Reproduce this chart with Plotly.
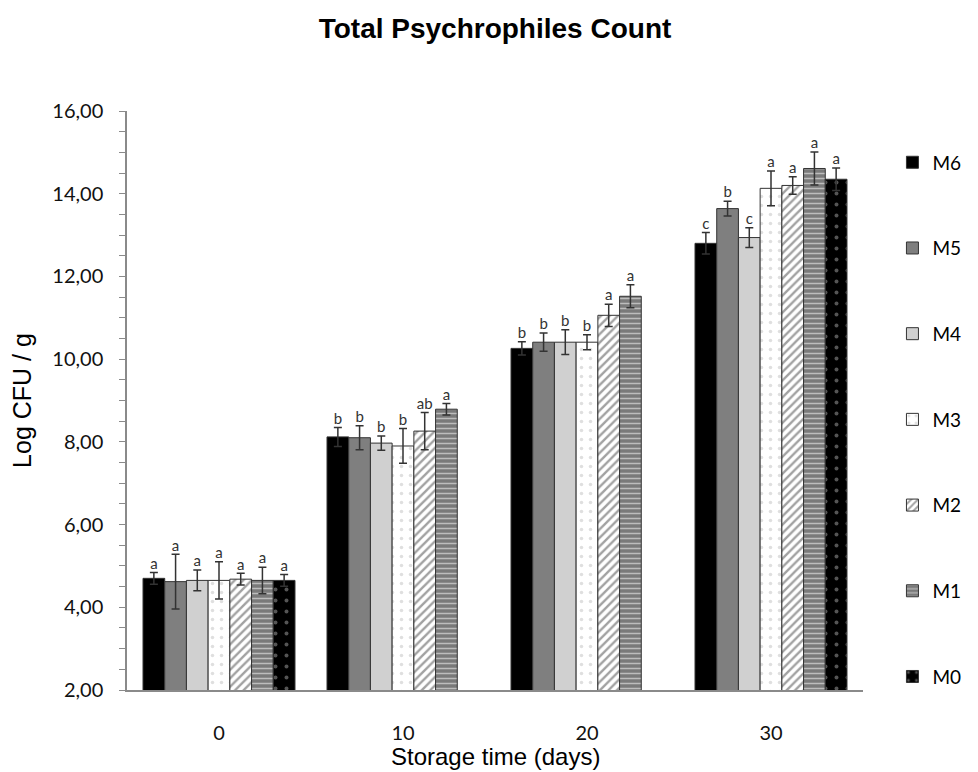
import plotly.graph_objects as go

days = ["0", "10", "20", "30"]
series = ["M6", "M5", "M4", "M3", "M2", "M1", "M0"]

# mean values (Log CFU/g) per series, for days 0, 10, 20, 30 (None = not measured)
M6 = [4.70, 8.12, 10.26, 12.80]
M5 = [4.62, 8.10, 10.41, 13.64]
M4 = [4.65, 7.97, 10.41, 12.94]
M3 = [4.65, 7.90, 10.41, 14.13]
M2 = [4.68, 8.26, 11.06, 14.20]
M1 = [4.65, 8.79, 11.52, 14.61]
M0 = [4.65, None, None, 14.35]

# standard deviations
M6_sd = [0.14, 0.23, 0.16, 0.26]
M5_sd = [0.66, 0.29, 0.22, 0.18]
M4_sd = [0.25, 0.17, 0.30, 0.24]
M3_sd = [0.45, 0.42, 0.18, 0.42]
M2_sd = [0.14, 0.45, 0.27, 0.21]
M1_sd = [0.32, 0.14, 0.28, 0.40]
M0_sd = [0.14, None, None, 0.27]

# significance letters
M6_lab = ["a", "b", "b", "c"]
M5_lab = ["a", "b", "b", "b"]
M4_lab = ["a", "b", "b", "c"]
M3_lab = ["a", "b", "b", "a"]
M2_lab = ["a", "ab", "a", "a"]
M1_lab = ["a", "a", "a", "a"]
M0_lab = ["a", "", "", "a"]

values = [M6, M5, M4, M3, M2, M1, M0]
sds = [M6_sd, M5_sd, M4_sd, M3_sd, M2_sd, M1_sd, M0_sd]
labels = [M6_lab, M5_lab, M4_lab, M3_lab, M2_lab, M1_lab, M0_lab]

styles = [
    dict(color="#000000"),
    dict(color="#7f7f7f"),
    dict(color="#d0d0d0"),
    dict(color="#ffffff", pattern=dict(shape=".", bgcolor="#ffffff", fgcolor="#c0c0c0", size=9, solidity=0.12)),
    dict(color="#ffffff", pattern=dict(shape="/", bgcolor="#ffffff", fgcolor="#444444", size=6, solidity=0.4)),
    dict(color="#808080", pattern=dict(shape="-", bgcolor="#7a7a7a", fgcolor="#ffffff", size=5, solidity=0.3)),
    dict(color="#000000", pattern=dict(shape=".", bgcolor="#000000", fgcolor="#aaaaaa", size=11, solidity=0.1)),
]

n = len(series)
w = 0.118
fig = go.Figure()
for i, name in enumerate(series):
    xs, ys, es, ts, ty = [], [], [], [], []
    for g, v in enumerate(values[i]):
        if v is None:
            continue
        xs.append(g + (i - (n - 1) / 2) * w)
        ys.append(v)
        es.append(sds[i][g])
        ts.append(labels[i][g])
        ty.append(v + sds[i][g])
    st = styles[i]
    marker = dict(color=st["color"], line=dict(color="#333333", width=1))
    if "pattern" in st:
        marker["pattern"] = st["pattern"]
    fig.add_trace(go.Bar(
        x=xs, y=ys, width=w, name=name, marker=marker, legendgroup=name,
        error_y=dict(type="data", array=es, color="#333333", thickness=1.5, width=4),
    ))
    fig.add_trace(go.Scatter(
        x=xs, y=ty, mode="text", text=ts, textposition="top center",
        textfont=dict(family="Lato, sans-serif", size=15, color="#333333"),
        showlegend=False, hoverinfo="skip",
    ))

fig.update_layout(
    width=978, height=772,
    barmode="overlay",
    separators=",.",
    plot_bgcolor="white", paper_bgcolor="white",
    margin=dict(l=127, r=105, t=111, b=82),
    title=dict(text="<b>Total Psychrophiles Count</b>", x=0.5, xref="paper", y=0.963, yanchor="middle",
               font=dict(family="Liberation Sans, Arial, sans-serif", size=28, color="#000000")),
    legend=dict(x=1.04, y=0.944, xanchor="left", yanchor="top", tracegroupgap=58,
                font=dict(family="Lato, sans-serif", size=19, color="#000000"),
                itemwidth=30),
    showlegend=True,
    annotations=[dict(
        text="Storage time (days)", xref="paper", yref="paper", x=0.5, y=-0.114,
        xanchor="center", yanchor="middle", showarrow=False,
        font=dict(family="Liberation Sans, Arial, sans-serif", size=24, color="#000000"),
    )],
)
fig.update_xaxes(
    range=[-0.5, 3.5], tickvals=[0, 1, 2, 3], ticktext=days,
    showline=True, linecolor="#8a8a8a", linewidth=1.5, ticks="", showgrid=False, zeroline=False,
    ticklabelstandoff=24, automargin=False,
    tickfont=dict(family="Lato, sans-serif", size=20, color="#111111"),
)
fig.update_yaxes(
    range=[2, 16], dtick=2, tickformat=".2f",
    showline=True, linecolor="#8a8a8a", linewidth=1.5, showgrid=False, zeroline=False,
    ticks="outside", ticklen=6, tickcolor="#8a8a8a",
    ticklabelstandoff=12,
    minor=dict(dtick=0.5, ticks="outside", ticklen=6, tickcolor="#8a8a8a"),
    tickfont=dict(family="Lato, sans-serif", size=20, color="#111111"),
    title=dict(text="Log CFU / g", standoff=14,
               font=dict(family="Liberation Sans, Arial, sans-serif", size=25, color="#000000")),
)

fig.write_html("out.html")
